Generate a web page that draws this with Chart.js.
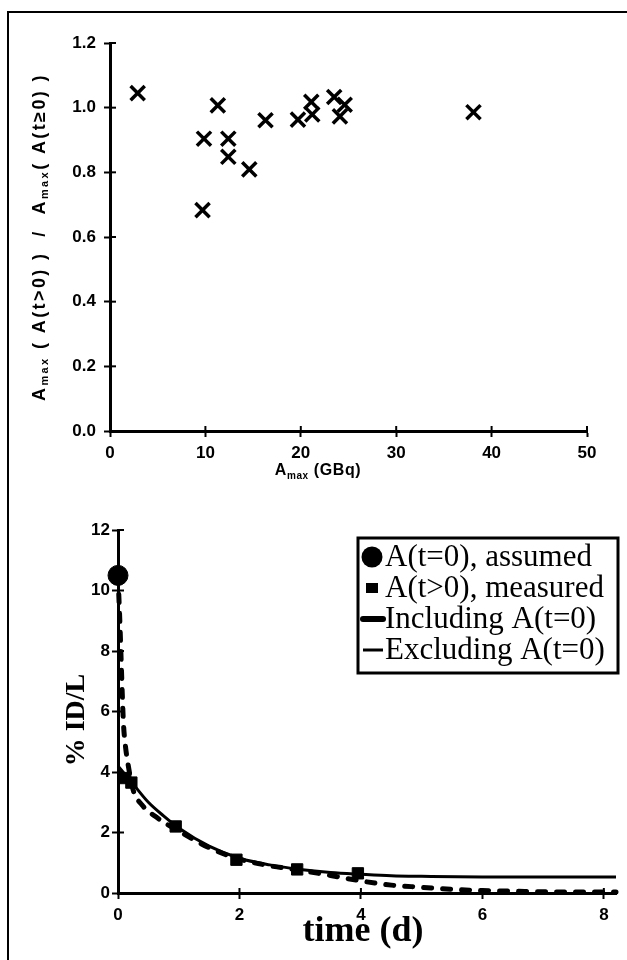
<!DOCTYPE html>
<html>
<head>
<meta charset="utf-8">
<script src="https://cdn.jsdelivr.net/npm/chart.js@4.4.1/dist/chart.umd.min.js"></script>
<style>
  html, body { margin: 0; padding: 0; background: #fff; }
  #page { position: relative; width: 627px; height: 960px; overflow: hidden; }
  #frame { position: absolute; left: 7px; top: 11px; width: 640px; height: 960px;
           border-top: 2px solid #000; border-left: 2px solid #000; }
  canvas { position: absolute; left: 0; }
  #top { top: 0; }
  #bottom { top: 480px; }
</style>
</head>
<body>
<div id="page">
  <div id="frame"></div>
  <canvas id="top" width="627" height="480"></canvas>
  <canvas id="bottom" width="627" height="480"></canvas>
</div>
<script>
// --- top panel: ratio vs Amax ---
const amaxGBq = [2.9, 9.85, 9.7, 11.3, 12.4, 12.4, 14.6, 16.3, 19.7, 21.1, 21.2, 23.5, 24.1, 24.6, 38.1];
const amaxRatio = [1.045, 0.904, 0.683, 1.007, 0.904, 0.848, 0.809, 0.961, 0.963, 1.018, 0.979, 1.033, 0.973, 1.009, 0.986];
const topXTicks = [0, 10, 20, 30, 40, 50];
const topYTicks = [0, 0.2, 0.4, 0.6, 0.8, 1.0, 1.2];

// --- bottom panel: %ID/L vs time ---
const assumedT = [0];
const assumedY = [10.5];
const measuredT = [0.12, 0.22, 0.95, 1.95, 2.95, 3.95];
const measuredY = [3.8, 3.65, 2.2, 1.1, 0.78, 0.65];
const inclT = [0, 0.03, 0.05, 0.07, 0.09, 0.12, 0.17, 0.25, 0.4, 0.6, 1.0, 1.5, 2.0, 2.5, 3.0, 3.5, 4.0, 4.5, 5.0, 5.5, 6.0, 6.5, 7.0, 7.5, 8.2];
const inclY = [10.5, 9.0, 7.8, 6.6, 5.6, 4.9, 4.2, 3.4, 2.9, 2.55, 2.05, 1.5, 1.12, 0.9, 0.75, 0.58, 0.4, 0.26, 0.19, 0.12, 0.08, 0.06, 0.04, 0.03, 0.03];
const exclT = [0, 0.25, 0.5, 0.75, 1.0, 1.5, 2.0, 2.5, 3.0, 3.5, 4.0, 4.5, 5.0, 6.0, 7.0, 8.2];
const exclY = [4.2, 3.6, 3.0, 2.55, 2.15, 1.55, 1.15, 0.93, 0.78, 0.68, 0.62, 0.57, 0.55, 0.53, 0.53, 0.53];
const bottomXTicks = [0, 2, 4, 6, 8];
const bottomYTicks = [0, 2, 4, 6, 8, 10, 12];
const legendLabels = ['A(t=0), assumed', 'A(t>0), measured', 'Including A(t=0)', 'Excluding A(t=0)'];

const toPoints = (xs, ys) => xs.map((x, i) => ({ x: x, y: ys[i] }));
const fixTicks = arr => scale => { scale.ticks = arr.map(v => ({ value: v })); };

// text with subscript parts, optionally rotated
function drawRich(ctx, parts, x, y, angle, font, subFont, spacing) {
  ctx.save();
  ctx.translate(x, y);
  ctx.rotate(angle);
  ctx.fillStyle = '#000';
  ctx.textBaseline = 'middle';
  ctx.textAlign = 'left';
  if ('letterSpacing' in ctx) ctx.letterSpacing = spacing + 'px';
  let widths = parts.map(p => { ctx.font = p[1] ? subFont : font; return ctx.measureText(p[0]).width; });
  let total = widths.reduce((a, b) => a + b, 0);
  let cx = -total / 2;
  parts.forEach((p, i) => {
    ctx.font = p[1] ? subFont : font;
    ctx.fillText(p[0], cx, p[1] ? 5 : 0);
    cx += widths[i];
  });
  ctx.restore();
}

// ticks crossing into the plot + axis titles + legend
const extrasPlugin = {
  id: 'extras',
  afterDraw(chart, args, opts) {
    const ctx = chart.ctx;
    const area = chart.chartArea;
    ctx.save();
    ctx.strokeStyle = '#000';
    ctx.lineWidth = 2;
    const xs = chart.scales.x, ys = chart.scales.y;
    xs.ticks.forEach(t => {
      const px = xs.getPixelForValue(t.value);
      ctx.beginPath(); ctx.moveTo(px, area.bottom); ctx.lineTo(px, area.bottom - 5); ctx.stroke();
    });
    ys.ticks.forEach(t => {
      const py = ys.getPixelForValue(t.value);
      ctx.beginPath(); ctx.moveTo(area.left, py); ctx.lineTo(area.left + 6, py); ctx.stroke();
    });
    ctx.restore();
    (opts.titles || []).forEach(t => drawRich(ctx, t.parts, t.x, t.y, t.angle, t.font, t.subFont, t.spacing || 0));
    if (opts.legend) {
      const L = opts.legend;
      ctx.save();
      ctx.lineWidth = 3;
      ctx.strokeStyle = '#000';
      ctx.strokeRect(L.x, L.y, L.w, L.h);
      ctx.fillStyle = '#000';
      ctx.font = L.font;
      ctx.textBaseline = 'middle';
      legendLabels.forEach((label, i) => {
        const cy = L.y + L.firstRow + i * L.rowGap;
        const mx = L.x + 14;
        ctx.beginPath();
        if (i === 0) { ctx.arc(mx, cy, 10.5, 0, Math.PI * 2); ctx.fill(); }
        else if (i === 1) { ctx.fillRect(mx - 6, cy - 5, 12, 10); }
        else {
          ctx.lineWidth = i === 2 ? 6 : 3;
          ctx.lineCap = i === 2 ? 'round' : 'butt';
          ctx.moveTo(mx - 9, cy); ctx.lineTo(mx + 11, cy); ctx.stroke();
        }
        ctx.fillText(label, L.x + 27, cy + 1);
      });
      ctx.restore();
    }
  }
};

function axisOpts(min, max, ticks, fit, isY, fontSize, pad) {
  return {
    type: 'linear', min: min, max: max,
    afterBuildTicks: fixTicks(ticks),
    afterFit: s => { if (isY) s.width = fit; else s.height = fit; },
    border: { display: true, color: '#000', width: 3 },
    grid: { drawOnChartArea: false, drawTicks: true, tickLength: 6, tickWidth: 2, tickColor: '#000' },
    ticks: {
      color: '#000', padding: pad,
      font: { family: 'Liberation Sans', weight: 'bold', size: fontSize }
    }
  };
}

// top chart
const topX = axisOpts(0, 50, topXTicks, 49, false, 17, 6);
const topY = axisOpts(0, 1.2, topYTicks, 110, true, 17, 8);
topY.ticks.callback = v => v.toFixed(1);

new Chart(document.getElementById('top'), {
  type: 'scatter',
  data: {
    datasets: [{
      label: 'ratio',
      data: toPoints(amaxGBq, amaxRatio),
      pointStyle: 'crossRot', pointRadius: 10, pointBorderWidth: 3.5,
      borderColor: '#000', backgroundColor: '#000'
    }]
  },
  options: {
    responsive: false, animation: false, devicePixelRatio: 1,
    layout: { padding: { left: 0, right: 40, top: 43, bottom: 0 } },
    scales: { x: topX, y: topY },
    plugins: {
      legend: { display: false }, tooltip: { enabled: false },
      extras: {
        titles: [
          { parts: [['A', 0], ['max', 1], [' ( A(t>0) )  /  A', 0], ['max', 1], ['( A(t\u22650) )', 0]],
            x: 40, y: 237, angle: -Math.PI / 2, font: 'bold 18px Liberation Sans', subFont: 'bold 11px Liberation Sans', spacing: 2.4 },
          { parts: [['A', 0], ['max', 1], [' (GBq)', 0]],
            x: 318, y: 471, angle: 0, font: 'bold 16px Liberation Sans', subFont: 'bold 10px Liberation Sans', spacing: 0.6 }
        ]
      }
    }
  },
  plugins: [extrasPlugin]
});

// bottom chart
const botX = axisOpts(0, 8.2, bottomXTicks, 67, false, 17, 6);
const botY = axisOpts(0, 12, bottomYTicks, 118, true, 17, 2);

new Chart(document.getElementById('bottom'), {
  type: 'scatter',
  data: {
    datasets: [
      { label: legendLabels[3], data: toPoints(exclT, exclY), showLine: true, pointRadius: 0,
        borderColor: '#000', borderWidth: 3, cubicInterpolationMode: 'monotone', clip: false },
      { label: legendLabels[2], data: toPoints(inclT, inclY), showLine: true, pointRadius: 0,
        borderColor: '#000', borderWidth: 5, borderDash: [8, 11], borderCapStyle: 'round',
        cubicInterpolationMode: 'monotone', clip: false },
      { label: legendLabels[1], data: toPoints(measuredT, measuredY), pointStyle: 'rect', pointRadius: 8,
        backgroundColor: '#000', borderColor: '#000', clip: false },
      { label: legendLabels[0], data: toPoints(assumedT, assumedY), pointStyle: 'circle', pointRadius: 10,
        backgroundColor: '#000', borderColor: '#000', clip: false }
    ]
  },
  options: {
    responsive: false, animation: false, devicePixelRatio: 1,
    layout: { padding: { left: 0, right: 11, top: 50, bottom: 0 } },
    scales: { x: botX, y: botY },
    plugins: {
      legend: { display: false }, tooltip: { enabled: false },
      extras: {
        titles: [
          { parts: [['% ID/L', 0]], x: 77, y: 240, angle: -Math.PI / 2,
            font: 'bold 28px Liberation Serif', subFont: 'bold 28px Liberation Serif', spacing: 0 },
          { parts: [['time (d)', 0]], x: 363, y: 452, angle: 0,
            font: 'bold 36px Liberation Serif', subFont: 'bold 36px Liberation Serif', spacing: 0 }
        ],
        legend: { x: 358, y: 58, w: 260, h: 135, firstRow: 19, rowGap: 31, font: '31px Liberation Serif' }
      }
    }
  },
  plugins: [extrasPlugin]
});
</script>
</body>
</html>
